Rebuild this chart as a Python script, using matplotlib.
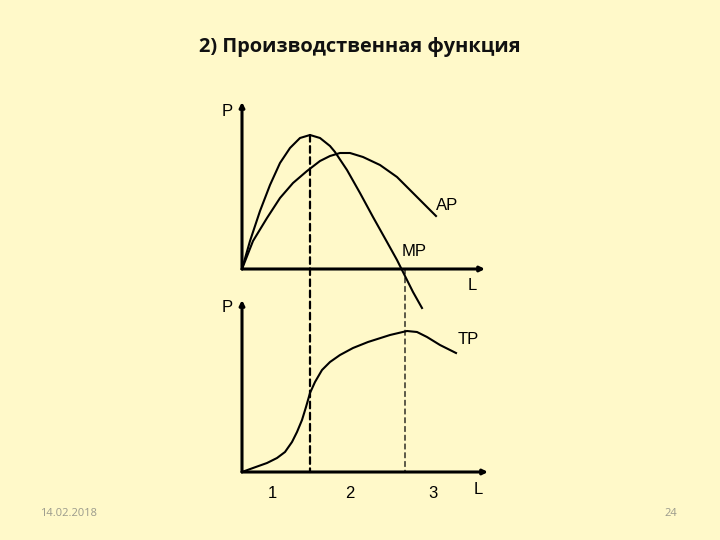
import matplotlib
matplotlib.use('Agg')
import matplotlib.pyplot as plt
from matplotlib.patches import ConnectionPatch

# curves (L, P) in arbitrary units
mp_L = [0, 0.8, 1.8, 2.8, 3.8, 4.8, 5.8, 6.8, 7.8, 8.8, 9.3, 10.5, 11.8, 13.1, 14.5, 15.5, 16.1, 17.1, 18.0]
mp_P = [0, 2.8, 5.8, 8.4, 10.6, 12.1, 13.1, 13.4, 13.1, 12.3, 11.7, 9.9, 7.6, 5.2, 2.7, 0.9, -0.3, -2.3, -3.9]

ap_L = [0, 1.1, 2.5, 3.8, 5.1, 6.5, 7.8, 8.8, 9.8, 10.8, 12.1, 13.8, 15.5, 17.1, 18.5, 19.4]
ap_P = [0, 2.8, 5.1, 7.1, 8.6, 9.8, 10.8, 11.3, 11.6, 11.6, 11.2, 10.4, 9.2, 7.6, 6.2, 5.3]

tp_L = [0, 1.1, 2.5, 3.5, 4.3, 5.0, 5.5, 6.0, 6.4, 6.8, 7.3, 8.0, 8.8, 9.8, 11.1, 12.6,
        14.8, 16.5, 17.5, 18.5, 19.8, 21.4]
tp_P = [0, 0.4, 0.9, 1.4, 2.0, 3.0, 4.0, 5.2, 6.5, 7.9, 9.0, 10.2, 11.0, 11.7, 12.4, 13.0,
        13.7, 14.1, 14.0, 13.5, 12.7, 11.9]

# stage boundaries: max of MP and MP = 0
L1, P1 = 6.8, 13.4
L2 = 16.3

stage_labels = ['1', '2', '3']
stage_pos = [3.0, 10.8, 19.1]

bg = '#fff9c9'
fig = plt.figure(figsize=(7.2, 5.4), dpi=100, facecolor=bg)

fig.text(0.5, 1 - 47 / 540, '2) Производственная функция', ha='center', va='center',
         fontsize=14.4, fontweight='bold', family='Open Sans', color='#111111')

# top panel: MP and AP
ax1 = fig.add_axes([222 / 720, 1 - 319 / 540, 280 / 720, 230 / 540])
ax1.set_xlim(-2, 26)
ax1.set_ylim(-5, 18)
# bottom panel: TP
ax2 = fig.add_axes([222 / 720, 1 - 512 / 540, 280 / 720, 230 / 540])
ax2.set_xlim(-2, 26)
ax2.set_ylim(-4, 19)

for ax in (ax1, ax2):
    ax.set_facecolor('none')
    ax.axis('off')

txt = dict(family='Liberation Sans', fontsize=12, color='black', ha='center', va='center')
arrow = dict(arrowstyle='-|>', lw=2.2, color='black', mutation_scale=7, shrinkA=0, shrinkB=0)

ax1.plot(mp_L, mp_P, color='black', lw=1.5, clip_on=False, solid_joinstyle='round')
ax1.plot(ap_L, ap_P, color='black', lw=1.5, clip_on=False, solid_joinstyle='round')
ax1.annotate('', xy=(0, 16.7), xytext=(0, 0), arrowprops=arrow)
ax1.annotate('', xy=(24.3, 0), xytext=(0, 0), arrowprops=arrow)
ax1.text(-1.5, 15.7, 'P', **txt)
ax1.text(20.5, 6.3, 'AP', **txt)
ax1.text(17.2, 1.7, 'MP', **txt)
ax1.text(23.0, -1.6, 'L', **txt)

ax2.plot(tp_L, tp_P, color='black', lw=1.5, solid_joinstyle='round')
ax2.annotate('', xy=(0, 17.2), xytext=(0, 0), arrowprops=arrow)
ax2.annotate('', xy=(24.6, 0), xytext=(0, 0), arrowprops=arrow)
ax2.text(-1.5, 16.5, 'P', **txt)
ax2.text(22.6, 13.2, 'TP', **txt)
ax2.text(23.6, -1.8, 'L', **txt)
for lab, x in zip(stage_labels, stage_pos):
    ax2.text(x, -2.1, lab, **txt)

# dashed guide lines through both panels
c1 = ConnectionPatch(xyA=(L1, P1), coordsA=ax1.transData, xyB=(L1, 0), coordsB=ax2.transData,
                     color='black', lw=1.6, linestyle=(0, (3, 2)))
c2 = ConnectionPatch(xyA=(L2, 0), coordsA=ax1.transData, xyB=(L2, 0), coordsB=ax2.transData,
                     color='black', lw=0.9, linestyle=(0, (4, 3)))
fig.add_artist(c1)
fig.add_artist(c2)

fig.text(40 / 720, 1 - 514 / 540, '14.02.2018', ha='left', va='center', fontsize=8,
         family='Open Sans', color='#9a9a8c')
fig.text(677 / 720, 1 - 514 / 540, '24', ha='right', va='center', fontsize=8,
         family='Open Sans', color='#9a9a8c')

fig.savefig('out.png', dpi=100, facecolor=bg)
